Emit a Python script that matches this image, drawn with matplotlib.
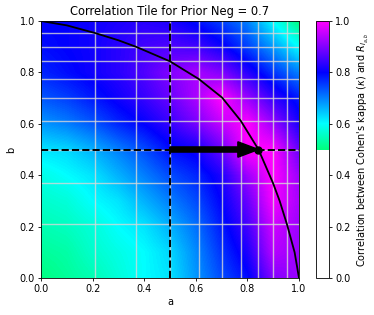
import numpy as np
import matplotlib
matplotlib.use("Agg")
import matplotlib.pyplot as plt
from matplotlib.colors import LinearSegmentedColormap

# Field values read on a 0.1 grid (rows: b = 0.0..1.0, cols: a = 0.0..1.0)
grid_step = 0.1
corr = [
    [0.50, 0.52, 0.54, 0.57, 0.60, 0.62, 0.68, 0.74, 0.79, 0.90, 0.92],
    [0.52, 0.53, 0.56, 0.58, 0.60, 0.63, 0.69, 0.76, 0.82, 0.94, 0.92],
    [0.54, 0.55, 0.57, 0.60, 0.62, 0.66, 0.71, 0.78, 0.85, 0.96, 0.92],
    [0.56, 0.57, 0.60, 0.62, 0.66, 0.70, 0.74, 0.80, 0.88, 0.99, 0.93],
    [0.58, 0.60, 0.62, 0.66, 0.70, 0.74, 0.77, 0.82, 0.92, 1.00, 0.92],
    [0.62, 0.63, 0.66, 0.70, 0.74, 0.79, 0.81, 0.88, 1.00, 1.00, 0.88],
    [0.68, 0.70, 0.73, 0.77, 0.80, 0.84, 0.89, 0.95, 1.00, 0.92, 0.82],
    [0.73, 0.75, 0.78, 0.81, 0.84, 0.88, 0.93, 1.00, 0.92, 0.84, 0.78],
    [0.77, 0.79, 0.81, 0.83, 0.86, 0.90, 0.93, 0.90, 0.83, 0.76, 0.70],
    [0.79, 0.80, 0.81, 0.83, 0.85, 0.86, 0.85, 0.81, 0.75, 0.68, 0.60],
    [0.80, 0.80, 0.81, 0.82, 0.83, 0.82, 0.79, 0.75, 0.70, 0.60, 0.50],
]

# tile grid line positions
tile_edges = [0.21, 0.37, 0.5, 0.612, 0.702, 0.774, 0.843, 0.899, 0.953]

# iso curve
curve_a = [0.0, 0.1, 0.21, 0.3, 0.37, 0.5, 0.612, 0.702, 0.774, 0.843, 0.899, 0.925, 0.953, 0.983, 1.0]
curve_b = [1.0, 0.983, 0.953, 0.925, 0.899, 0.843, 0.774, 0.702, 0.612, 0.5, 0.37, 0.3, 0.21, 0.1, 0.0]

# reference point and arrow
a0, b0 = 0.5, 0.5
a1 = 0.843
prior_neg = 0.7

cmap = LinearSegmentedColormap.from_list(
    "corr",
    [(0.0, "white"), (0.5, "white"), (0.5, (0.0, 1.0, 0.5)),
     (0.6, (0.0, 1.0, 1.0)), (0.8, (0.0, 0.0, 1.0)), (1.0, (1.0, 0.0, 1.0))],
)

fig = plt.figure(figsize=(3.74, 3.15), dpi=100)
ax = fig.add_axes([41 / 374, 37 / 315, 258 / 374, 257 / 315])
cax = fig.add_axes([316 / 374, 37 / 315, 13 / 374, 257 / 315])

h = grid_step / 2
im = ax.imshow(np.array(corr), origin="lower", extent=[-h, 1 + h, -h, 1 + h],
               cmap=cmap, vmin=0, vmax=1, interpolation="bilinear", aspect="auto")

for p in tile_edges:
    ax.axvline(p, color="#d8d8d8", lw=1.0, alpha=0.8, zorder=2)
    ax.axhline(p, color="#d8d8d8", lw=1.0, alpha=0.8, zorder=2)

ax.plot(curve_a, curve_b, color="black", lw=1.3, zorder=3)
ax.axvline(a0, color="black", ls="--", lw=1.4, zorder=4)
ax.axhline(b0, color="black", ls="--", lw=1.4, zorder=4)
ax.arrow(a0, b0, a1 - a0, 0, width=0.02, head_width=0.06, head_length=0.08,
         length_includes_head=True, color="black", zorder=5)
ax.plot([a1], [b0], "o", color="black", ms=5, zorder=6)

ax.set_xlim(0, 1)
ax.set_ylim(0, 1)
ax.set_xticks([0, 0.2, 0.4, 0.6, 0.8, 1.0])
ax.set_yticks([0, 0.2, 0.4, 0.6, 0.8, 1.0])
ax.tick_params(labelsize=7, length=2.5, width=0.6, pad=2)
for s in ax.spines.values():
    s.set_linewidth(0.6)
ax.set_xlabel("a", fontsize=7, labelpad=2)
ax.set_ylabel("b", fontsize=7, labelpad=2)
ax.set_title(f"Correlation Tile for Prior Neg = {prior_neg}", fontsize=8.3, pad=4)

cb = fig.colorbar(im, cax=cax)
cb.set_ticks([0, 0.2, 0.4, 0.6, 0.8, 1.0])
cb.ax.tick_params(labelsize=7, length=2.5, width=0.6, pad=2)
cb.outline.set_linewidth(0.6)
cb.set_label(r"Correlation between Cohen's kappa ($\kappa$) and $R_{I_{a,b}}$", fontsize=7, labelpad=4)

fig.savefig("out.png", dpi=100)
